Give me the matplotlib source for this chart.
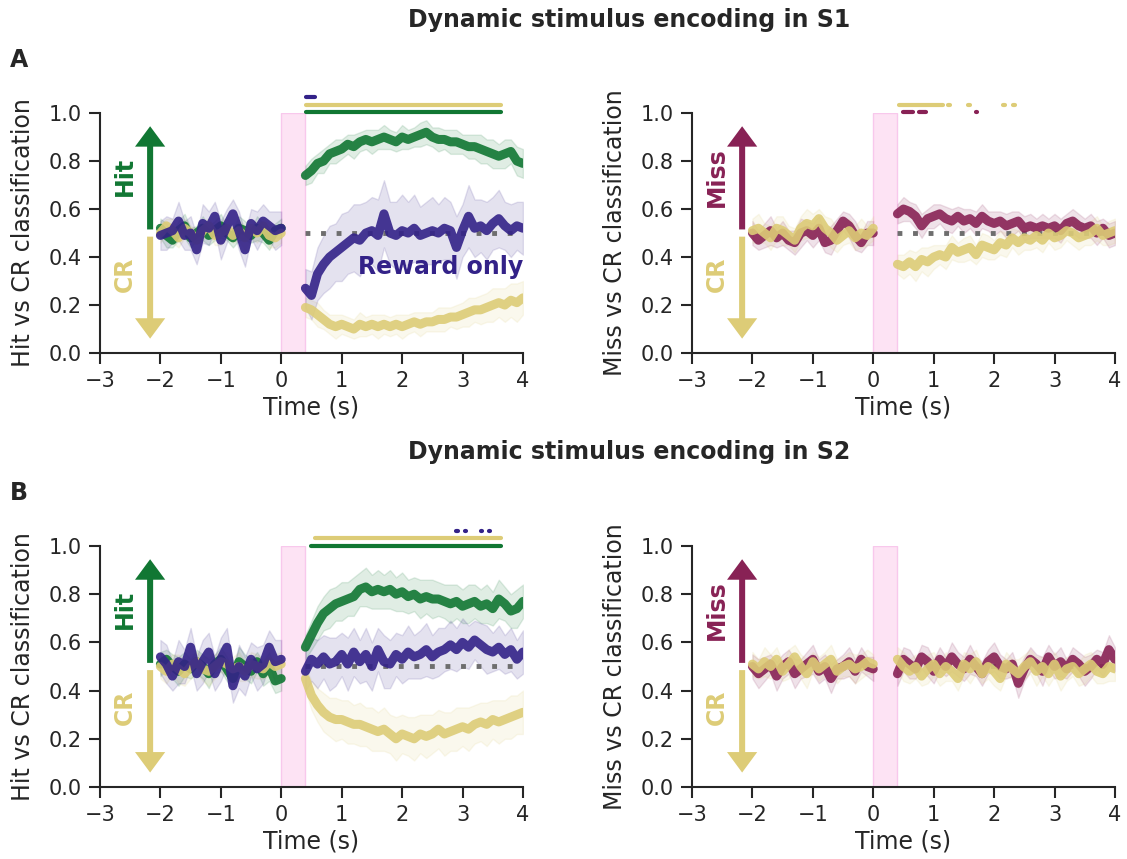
import numpy as np
import matplotlib
matplotlib.use('Agg')
import matplotlib.pyplot as plt

# time bins (s)
t_pre = np.round(np.arange(-2.0, 0.001, 0.1), 1)
t_post = np.round(np.arange(0.4, 4.001, 0.1), 1)

HIT = '#117733'
CR = '#DDCC77'
MISS = '#882255'
REW = '#332288'

# ---- S1, Hit vs CR ----
s1_hit_pre = [0.52, 0.49, 0.47, 0.51, 0.53, 0.48, 0.50, 0.52, 0.49, 0.51, 0.53,
              0.50, 0.48, 0.52, 0.51, 0.49, 0.52, 0.50, 0.47, 0.51, 0.52]
s1_hit_pre_sem = [0.04, 0.05, 0.03, 0.04, 0.05, 0.04, 0.03, 0.05, 0.04, 0.04, 0.05,
                  0.03, 0.04, 0.05, 0.04, 0.03, 0.05, 0.04, 0.04, 0.03, 0.04]
s1_hit_post = [0.74, 0.76, 0.79, 0.80, 0.83, 0.84, 0.85, 0.87, 0.86, 0.88, 0.89, 0.88,
               0.89, 0.90, 0.89, 0.88, 0.90, 0.89, 0.90, 0.91, 0.92, 0.90, 0.89, 0.89,
               0.88, 0.88, 0.87, 0.86, 0.86, 0.85, 0.84, 0.83, 0.82, 0.83, 0.84, 0.80, 0.79]
s1_hit_post_sem = [0.04, 0.05, 0.04, 0.05, 0.04, 0.05, 0.04, 0.04, 0.05, 0.04, 0.04, 0.05,
                   0.04, 0.05, 0.04, 0.04, 0.05, 0.04, 0.04, 0.05, 0.05, 0.04, 0.05, 0.04,
                   0.05, 0.05, 0.04, 0.05, 0.05, 0.06, 0.05, 0.06, 0.05, 0.06, 0.05, 0.06, 0.06]
s1_cr_pre = [0.50, 0.53, 0.51, 0.48, 0.52, 0.50, 0.47, 0.51, 0.53, 0.49, 0.50,
             0.52, 0.49, 0.51, 0.48, 0.52, 0.50, 0.53, 0.49, 0.48, 0.50]
s1_cr_pre_sem = [0.04, 0.03, 0.05, 0.04, 0.04, 0.03, 0.05, 0.04, 0.03, 0.04, 0.05,
                 0.04, 0.03, 0.04, 0.05, 0.04, 0.04, 0.03, 0.05, 0.04, 0.04]
s1_cr_post = [0.19, 0.18, 0.16, 0.14, 0.12, 0.11, 0.12, 0.11, 0.10, 0.12, 0.11, 0.12,
              0.11, 0.12, 0.11, 0.12, 0.11, 0.12, 0.13, 0.12, 0.13, 0.13, 0.14, 0.14,
              0.15, 0.15, 0.16, 0.17, 0.18, 0.18, 0.19, 0.20, 0.21, 0.20, 0.22, 0.21, 0.23]
s1_cr_post_sem = [0.04, 0.04, 0.05, 0.04, 0.04, 0.05, 0.04, 0.04, 0.04, 0.05, 0.04, 0.04,
                  0.05, 0.04, 0.04, 0.04, 0.05, 0.04, 0.04, 0.05, 0.04, 0.04, 0.05, 0.05,
                  0.04, 0.05, 0.05, 0.06, 0.05, 0.06, 0.06, 0.07, 0.06, 0.07, 0.07, 0.08, 0.07]
s1_rew_pre = [0.49, 0.50, 0.51, 0.55, 0.49, 0.50, 0.43, 0.54, 0.52, 0.57, 0.47,
              0.53, 0.58, 0.51, 0.43, 0.54, 0.51, 0.55, 0.53, 0.51, 0.52]
s1_rew_pre_sem = [0.06, 0.07, 0.05, 0.08, 0.06, 0.07, 0.06, 0.08, 0.07, 0.06, 0.08,
                  0.07, 0.06, 0.08, 0.07, 0.06, 0.08, 0.07, 0.06, 0.08, 0.07]
s1_rew_post = [0.27, 0.24, 0.33, 0.37, 0.40, 0.42, 0.44, 0.46, 0.48, 0.47, 0.50, 0.51,
               0.49, 0.58, 0.50, 0.49, 0.51, 0.50, 0.52, 0.49, 0.50, 0.51, 0.50, 0.52,
               0.51, 0.44, 0.51, 0.57, 0.52, 0.53, 0.51, 0.54, 0.56, 0.53, 0.51, 0.53, 0.52]
s1_rew_post_sem = [0.08, 0.10, 0.11, 0.12, 0.13, 0.12, 0.14, 0.13, 0.14, 0.15, 0.13, 0.14,
                   0.15, 0.14, 0.13, 0.14, 0.15, 0.13, 0.14, 0.12, 0.13, 0.14, 0.12, 0.13,
                   0.12, 0.13, 0.11, 0.13, 0.12, 0.11, 0.12, 0.11, 0.12, 0.10, 0.11, 0.10, 0.11]

# ---- S1, Miss vs CR ----
s1_miss_pre = [0.50, 0.47, 0.49, 0.51, 0.48, 0.50, 0.47, 0.46, 0.50, 0.51, 0.49,
               0.52, 0.46, 0.47, 0.51, 0.55, 0.53, 0.49, 0.46, 0.50, 0.50]
s1_miss_pre_sem = [0.05, 0.04, 0.05, 0.06, 0.04, 0.05, 0.04, 0.05, 0.06, 0.04, 0.05,
                   0.05, 0.04, 0.06, 0.05, 0.04, 0.05, 0.06, 0.04, 0.05, 0.05]
s1_miss_post = [0.58, 0.60, 0.59, 0.57, 0.53, 0.56, 0.57, 0.58, 0.56, 0.55, 0.57, 0.55,
                0.56, 0.54, 0.57, 0.55, 0.54, 0.55, 0.53, 0.54, 0.55, 0.52, 0.53, 0.52,
                0.53, 0.52, 0.53, 0.51, 0.54, 0.55, 0.53, 0.52, 0.53, 0.50, 0.52, 0.49, 0.50]
s1_miss_post_sem = [0.04, 0.05, 0.04, 0.05, 0.05, 0.04, 0.05, 0.04, 0.05, 0.05, 0.04, 0.05,
                    0.04, 0.05, 0.05, 0.04, 0.05, 0.04, 0.05, 0.05, 0.04, 0.05, 0.05, 0.04,
                    0.05, 0.04, 0.05, 0.05, 0.04, 0.05, 0.05, 0.04, 0.05, 0.05, 0.04, 0.05, 0.05]
s1_cr2_pre = [0.51, 0.52, 0.50, 0.48, 0.52, 0.51, 0.49, 0.47, 0.52, 0.54, 0.53,
              0.56, 0.52, 0.50, 0.47, 0.49, 0.51, 0.48, 0.50, 0.49, 0.52]
s1_cr2_pre_sem = [0.05, 0.06, 0.04, 0.05, 0.05, 0.06, 0.04, 0.05, 0.05, 0.06, 0.05,
                  0.04, 0.05, 0.06, 0.05, 0.04, 0.05, 0.05, 0.06, 0.04, 0.05]
s1_cr2_post = [0.37, 0.36, 0.38, 0.36, 0.39, 0.38, 0.40, 0.41, 0.40, 0.44, 0.42, 0.43,
               0.44, 0.41, 0.45, 0.44, 0.43, 0.46, 0.45, 0.48, 0.46, 0.48, 0.47, 0.49,
               0.47, 0.50, 0.48, 0.49, 0.51, 0.50, 0.48, 0.49, 0.50, 0.52, 0.49, 0.50, 0.51]
s1_cr2_post_sem = [0.04, 0.05, 0.05, 0.06, 0.05, 0.06, 0.05, 0.04, 0.05, 0.05, 0.04, 0.05,
                   0.05, 0.04, 0.05, 0.05, 0.04, 0.05, 0.05, 0.04, 0.05, 0.05, 0.04, 0.05,
                   0.05, 0.04, 0.05, 0.05, 0.04, 0.05, 0.05, 0.04, 0.05, 0.05, 0.04, 0.05, 0.05]

# ---- S2, Hit vs CR ----
s2_hit_pre = [0.51, 0.53, 0.50, 0.48, 0.51, 0.49, 0.52, 0.50, 0.47, 0.51, 0.53,
              0.49, 0.45, 0.52, 0.50, 0.48, 0.52, 0.47, 0.50, 0.44, 0.45]
s2_hit_pre_sem = [0.05, 0.04, 0.05, 0.06, 0.05, 0.04, 0.05, 0.05, 0.06, 0.04, 0.05,
                  0.05, 0.04, 0.06, 0.05, 0.05, 0.04, 0.05, 0.06, 0.05, 0.05]
s2_hit_post = [0.58, 0.63, 0.68, 0.72, 0.74, 0.76, 0.77, 0.78, 0.79, 0.82, 0.83, 0.81,
               0.82, 0.81, 0.82, 0.80, 0.81, 0.79, 0.80, 0.78, 0.79, 0.78, 0.78, 0.77,
               0.76, 0.77, 0.75, 0.76, 0.77, 0.75, 0.76, 0.74, 0.78, 0.76, 0.73, 0.74, 0.77]
s2_hit_post_sem = [0.05, 0.06, 0.07, 0.07, 0.08, 0.07, 0.08, 0.07, 0.08, 0.07, 0.08, 0.07,
                   0.08, 0.07, 0.08, 0.07, 0.08, 0.07, 0.07, 0.08, 0.07, 0.08, 0.07, 0.07,
                   0.08, 0.07, 0.07, 0.08, 0.07, 0.07, 0.08, 0.07, 0.08, 0.07, 0.07, 0.08, 0.07]
s2_cr_pre = [0.50, 0.48, 0.51, 0.49, 0.47, 0.50, 0.52, 0.49, 0.48, 0.50, 0.52,
             0.51, 0.49, 0.50, 0.48, 0.51, 0.50, 0.49, 0.52, 0.50, 0.51]
s2_cr_pre_sem = [0.05, 0.05, 0.04, 0.06, 0.05, 0.05, 0.04, 0.05, 0.06, 0.05, 0.04,
                 0.05, 0.05, 0.06, 0.04, 0.05, 0.05, 0.04, 0.06, 0.05, 0.05]
s2_cr_post = [0.45, 0.38, 0.34, 0.31, 0.29, 0.28, 0.28, 0.27, 0.26, 0.26, 0.25, 0.24,
              0.23, 0.24, 0.22, 0.20, 0.22, 0.21, 0.20, 0.22, 0.21, 0.22, 0.24, 0.22,
              0.23, 0.24, 0.25, 0.24, 0.26, 0.27, 0.26, 0.28, 0.27, 0.28, 0.29, 0.30, 0.31]
s2_cr_post_sem = [0.05, 0.06, 0.07, 0.08, 0.08, 0.09, 0.08, 0.09, 0.08, 0.09, 0.08, 0.09,
                  0.08, 0.09, 0.08, 0.09, 0.08, 0.08, 0.09, 0.08, 0.09, 0.08, 0.08, 0.09,
                  0.08, 0.09, 0.08, 0.09, 0.08, 0.08, 0.09, 0.08, 0.09, 0.08, 0.09, 0.08, 0.09]
s2_rew_pre = [0.54, 0.51, 0.46, 0.52, 0.50, 0.58, 0.47, 0.52, 0.56, 0.47, 0.53,
              0.58, 0.42, 0.50, 0.46, 0.53, 0.49, 0.51, 0.58, 0.52, 0.53]
s2_rew_pre_sem = [0.07, 0.08, 0.06, 0.09, 0.07, 0.08, 0.07, 0.09, 0.08, 0.07, 0.09,
                  0.08, 0.07, 0.09, 0.08, 0.07, 0.09, 0.08, 0.07, 0.09, 0.08]
s2_rew_post = [0.48, 0.53, 0.51, 0.54, 0.51, 0.52, 0.55, 0.51, 0.56, 0.52, 0.55, 0.50,
               0.57, 0.52, 0.51, 0.55, 0.53, 0.56, 0.54, 0.55, 0.57, 0.54, 0.56, 0.57,
               0.59, 0.57, 0.60, 0.58, 0.61, 0.59, 0.57, 0.56, 0.58, 0.55, 0.57, 0.53, 0.56]
s2_rew_post_sem = [0.08, 0.09, 0.10, 0.09, 0.11, 0.10, 0.09, 0.11, 0.10, 0.09, 0.11, 0.10,
                   0.09, 0.11, 0.10, 0.09, 0.10, 0.11, 0.09, 0.10, 0.11, 0.09, 0.10, 0.09,
                   0.10, 0.09, 0.10, 0.09, 0.08, 0.09, 0.10, 0.08, 0.09, 0.08, 0.09, 0.08, 0.09]

# ---- S2, Miss vs CR ----
s2_miss_pre = [0.50, 0.47, 0.49, 0.51, 0.46, 0.50, 0.52, 0.47, 0.49, 0.51, 0.53,
               0.48, 0.50, 0.45, 0.49, 0.50, 0.52, 0.48, 0.53, 0.50, 0.49]
s2_miss_pre_sem = [0.05, 0.06, 0.05, 0.04, 0.06, 0.05, 0.05, 0.06, 0.04, 0.05, 0.06,
                   0.05, 0.05, 0.06, 0.04, 0.05, 0.06, 0.05, 0.05, 0.04, 0.05]
s2_miss_post = [0.47, 0.53, 0.51, 0.49, 0.54, 0.52, 0.48, 0.53, 0.50, 0.54, 0.51, 0.49,
                0.53, 0.50, 0.47, 0.52, 0.54, 0.50, 0.49, 0.51, 0.43, 0.49, 0.53, 0.51,
                0.48, 0.54, 0.50, 0.52, 0.49, 0.53, 0.51, 0.48, 0.50, 0.53, 0.51, 0.57, 0.53]
s2_miss_post_sem = [0.05, 0.05, 0.06, 0.04, 0.05, 0.06, 0.05, 0.05, 0.04, 0.06, 0.05, 0.05,
                    0.06, 0.04, 0.05, 0.05, 0.06, 0.05, 0.04, 0.05, 0.06, 0.05, 0.05, 0.04,
                    0.06, 0.05, 0.05, 0.06, 0.04, 0.05, 0.05, 0.06, 0.05, 0.04, 0.05, 0.06, 0.05]
s2_cr2_pre = [0.51, 0.49, 0.52, 0.50, 0.53, 0.48, 0.51, 0.54, 0.50, 0.47, 0.52,
              0.49, 0.51, 0.53, 0.48, 0.50, 0.51, 0.49, 0.50, 0.52, 0.51]
s2_cr2_pre_sem = [0.05, 0.04, 0.06, 0.05, 0.05, 0.04, 0.06, 0.05, 0.05, 0.06, 0.04,
                  0.05, 0.05, 0.06, 0.05, 0.04, 0.05, 0.06, 0.05, 0.05, 0.04]
s2_cr2_post = [0.53, 0.50, 0.48, 0.50, 0.46, 0.49, 0.51, 0.47, 0.50, 0.48, 0.45, 0.51,
               0.49, 0.52, 0.47, 0.50, 0.48, 0.45, 0.51, 0.49, 0.47, 0.50, 0.52, 0.48,
               0.50, 0.47, 0.51, 0.46, 0.49, 0.50, 0.47, 0.49, 0.51, 0.48, 0.47, 0.50, 0.49]
s2_cr2_post_sem = [0.05, 0.06, 0.05, 0.05, 0.04, 0.06, 0.05, 0.05, 0.06, 0.04, 0.05, 0.05,
                   0.06, 0.05, 0.04, 0.05, 0.06, 0.05, 0.05, 0.04, 0.06, 0.05, 0.05, 0.06,
                   0.04, 0.05, 0.05, 0.06, 0.05, 0.04, 0.05, 0.06, 0.05, 0.05, 0.04, 0.06, 0.05]

# significance bars: (color, y, [(start, end), ...])
s1_left_sig = [(REW, 1.065, [(0.41, 0.56)]),
               (CR, 1.033, [(0.41, 3.63)]),
               (HIT, 1.003, [(0.41, 3.63)])]
s1_right_sig = [(CR, 1.035, [(0.42, 1.15), (1.24, 1.27), (1.57, 1.60), (2.15, 2.18), (2.32, 2.35)]),
                (MISS, 1.003, [(0.49, 0.66), (0.75, 0.88), (1.70, 1.72)])]
s2_left_sig = [(REW, 1.062, [(2.90, 2.92), (3.04, 3.06), (3.31, 3.33), (3.44, 3.46)]),
               (CR, 1.032, [(0.56, 3.63)]),
               (HIT, 1.0, [(0.49, 3.63)])]
s2_right_sig = []

plt.rcParams['font.family'] = 'DejaVu Sans'
plt.rcParams['text.color'] = '#262626'
plt.rcParams['axes.labelcolor'] = '#262626'
plt.rcParams['xtick.color'] = '#262626'
plt.rcParams['ytick.color'] = '#262626'


def draw_panel(ax, traces, ylabel, up_label, up_color, sig):
    ax.axvspan(0, 0.4, facecolor='#fde3f4', edgecolor='#f8c8ec', lw=1, zorder=0)
    ax.plot([0.4, 4.0], [0.5, 0.5], color='#6e6e6e', lw=3.5, dashes=(1, 2.2),
            dash_capstyle='butt', zorder=2)
    for pre, pre_sem, post, post_sem, color in traces:
        for t, m, s in ((t_pre, pre, pre_sem), (t_post, post, post_sem)):
            m = np.array(m)
            s = np.array(s)
            ax.fill_between(t, m - s, m + s, color=color, alpha=0.13, lw=1, zorder=1)
            ax.plot(t, m, color=color, lw=6.5, alpha=0.9, solid_capstyle='round',
                    solid_joinstyle='round', zorder=3)
    # direction arrows
    ax.arrow(-2.17, 0.515, 0, 0.43, width=0.1, head_width=0.5, head_length=0.085,
             length_includes_head=True, color=up_color, lw=0, zorder=4)
    ax.arrow(-2.17, 0.485, 0, -0.425, width=0.1, head_width=0.5, head_length=0.085,
             length_includes_head=True, color=CR, lw=0, zorder=4)
    ax.text(-2.58, 0.735, up_label, rotation=90, ha='center', va='center',
            color=up_color, fontsize=17, fontweight='bold')
    ax.text(-2.58, 0.33, 'CR', rotation=90, ha='center', va='center',
            color=CR, fontsize=17, fontweight='bold')
    for color, y, segs in sig:
        for a, b in segs:
            ax.plot([a, b], [y, y], color=color, lw=3, solid_capstyle='round',
                    clip_on=False, zorder=5)
    ax.set_xlim(-3, 4)
    ax.set_ylim(0, 1)
    ax.set_xticks(range(-3, 5))
    ax.set_yticks([0.0, 0.2, 0.4, 0.6, 0.8, 1.0])
    ax.set_yticklabels(['0.0', '0.2', '0.4', '0.6', '0.8', '1.0'])
    ax.set_xlabel('Time (s)', fontsize=17, labelpad=3)
    ax.set_ylabel(ylabel, fontsize=17, labelpad=10)
    for side in ('top', 'right'):
        ax.spines[side].set_visible(False)
    for side in ('left', 'bottom'):
        ax.spines[side].set_linewidth(1.5)
        ax.spines[side].set_color('#262626')
    ax.tick_params(direction='out', length=8, width=1.5, labelsize=15, pad=5)


fig = plt.figure(figsize=(11.27, 8.59), dpi=100)
ax1 = fig.add_axes([0.0887, 0.589, 0.3753, 0.2794])
ax2 = fig.add_axes([0.614, 0.589, 0.3753, 0.2794])
ax3 = fig.add_axes([0.0887, 0.0838, 0.3753, 0.2806])
ax4 = fig.add_axes([0.614, 0.0838, 0.3753, 0.2806])

draw_panel(ax1, [(s1_hit_pre, s1_hit_pre_sem, s1_hit_post, s1_hit_post_sem, HIT),
                 (s1_cr_pre, s1_cr_pre_sem, s1_cr_post, s1_cr_post_sem, CR),
                 (s1_rew_pre, s1_rew_pre_sem, s1_rew_post, s1_rew_post_sem, REW)],
           'Hit vs CR classification', 'Hit', HIT, s1_left_sig)
draw_panel(ax2, [(s1_miss_pre, s1_miss_pre_sem, s1_miss_post, s1_miss_post_sem, MISS),
                 (s1_cr2_pre, s1_cr2_pre_sem, s1_cr2_post, s1_cr2_post_sem, CR)],
           'Miss vs CR classification', 'Miss', MISS, s1_right_sig)
draw_panel(ax3, [(s2_hit_pre, s2_hit_pre_sem, s2_hit_post, s2_hit_post_sem, HIT),
                 (s2_cr_pre, s2_cr_pre_sem, s2_cr_post, s2_cr_post_sem, CR),
                 (s2_rew_pre, s2_rew_pre_sem, s2_rew_post, s2_rew_post_sem, REW)],
           'Hit vs CR classification', 'Hit', HIT, s2_left_sig)
draw_panel(ax4, [(s2_miss_pre, s2_miss_pre_sem, s2_miss_post, s2_miss_post_sem, MISS),
                 (s2_cr2_pre, s2_cr2_pre_sem, s2_cr2_post, s2_cr2_post_sem, CR)],
           'Miss vs CR classification', 'Miss', MISS, s2_right_sig)

ax1.text(4.0, 0.36, 'Reward only', ha='right', va='center', color=REW,
         fontsize=17, fontweight='bold', zorder=6)

fig.text(0.558, 0.977, 'Dynamic stimulus encoding in S1', ha='center', va='center',
         fontsize=17, fontweight='bold')
fig.text(0.558, 0.474, 'Dynamic stimulus encoding in S2', ha='center', va='center',
         fontsize=17, fontweight='bold')
fig.text(0.009, 0.930, 'A', ha='left', va='center', fontsize=17, fontweight='bold')
fig.text(0.009, 0.426, 'B', ha='left', va='center', fontsize=17, fontweight='bold')

fig.savefig('out.png', dpi=100)
